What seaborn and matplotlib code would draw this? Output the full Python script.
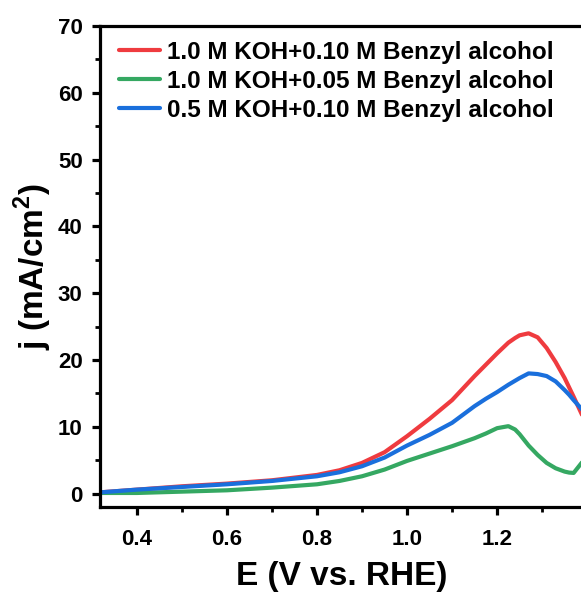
import numpy as np
import pandas as pd
import matplotlib
matplotlib.use("Agg")
import matplotlib.pyplot as plt
from matplotlib.ticker import MultipleLocator
import seaborn as sns

# 電位 (V vs. RHE)
E = [0.32, 0.40, 0.50, 0.60, 0.70, 0.80, 0.85, 0.90, 0.95, 1.00, 1.05, 1.10,
     1.15, 1.175, 1.20, 1.225, 1.24, 1.25, 1.27, 1.29, 1.31, 1.33, 1.35, 1.36,
     1.37, 1.39, 1.41]

# 電流密度 (mA/cm2)
j_koh10_ba10 = [0.2, 0.6, 1.1, 1.5, 2.0, 2.8, 3.5, 4.6, 6.2, 8.6, 11.2, 14.0,
                17.6, 19.3, 21.0, 22.6, 23.3, 23.7, 24.0, 23.4, 21.8, 19.7, 17.3, 15.9,
                14.5, 11.6, 9.0]
j_koh10_ba05 = [0.1, 0.1, 0.3, 0.5, 0.9, 1.4, 1.9, 2.6, 3.6, 4.9, 6.0, 7.1,
                8.3, 9.0, 9.8, 10.1, 9.6, 8.9, 7.2, 5.8, 4.6, 3.8, 3.3, 3.15,
                3.1, 4.8, 6.0]
j_koh05_ba10 = [0.2, 0.6, 1.0, 1.4, 1.9, 2.6, 3.2, 4.1, 5.4, 7.2, 8.8, 10.6,
                13.1, 14.2, 15.2, 16.3, 16.9, 17.3, 18.0, 17.9, 17.6, 16.8, 15.5, 14.8,
                14.0, 12.5, 11.2]

labels = ["1.0 M KOH+0.10 M Benzyl alcohol",
          "1.0 M KOH+0.05 M Benzyl alcohol",
          "0.5 M KOH+0.10 M Benzyl alcohol"]
colors = ["#ef3b3f", "#35a862", "#1a6fdc"]

# 整理成長格式
df = pd.concat([
    pd.DataFrame({"E": E, "j": j_koh10_ba10, "series": labels[0]}),
    pd.DataFrame({"E": E, "j": j_koh10_ba05, "series": labels[1]}),
    pd.DataFrame({"E": E, "j": j_koh05_ba10, "series": labels[2]}),
])

sns.set_style("ticks")
plt.rcParams["font.family"] = ["Liberation Sans", "DejaVu Sans"]
plt.rcParams["font.weight"] = "bold"
plt.rcParams["text.color"] = "black"
plt.rcParams["axes.labelcolor"] = "black"
plt.rcParams["xtick.color"] = "black"
plt.rcParams["ytick.color"] = "black"
plt.rcParams["axes.edgecolor"] = "black"
plt.rcParams["mathtext.fontset"] = "custom"
plt.rcParams["mathtext.rm"] = "Liberation Sans:bold"
plt.rcParams["mathtext.bf"] = "Liberation Sans:bold"

fig = plt.figure(figsize=(5.81, 5.94), dpi=100)
W, H = 581, 594
ax = fig.add_axes([100 / W, 87 / H, 484 / W, 481 / H])

sns.lineplot(data=df, x="E", y="j", hue="series", hue_order=labels,
             palette=colors, linewidth=3.0, ax=ax, sort=False)

ax.set_xlim(0.318, 1.393)
ax.set_ylim(-2, 70)
ax.xaxis.set_major_locator(MultipleLocator(0.2))
ax.xaxis.set_minor_locator(MultipleLocator(0.1))
ax.yaxis.set_major_locator(MultipleLocator(10))
ax.yaxis.set_minor_locator(MultipleLocator(5))

for s in ax.spines.values():
    s.set_linewidth(2.3)
ax.tick_params(which="major", direction="out", length=5.5, width=2.3,
               labelsize=16, pad=7, colors="black")
ax.tick_params(axis="x", which="major", pad=10)
ax.tick_params(which="minor", direction="out", length=3.5, width=2.0, colors="black")
for t in ax.get_xticklabels() + ax.get_yticklabels():
    t.set_fontweight("bold")

ax.set_xlabel("E (V vs. RHE)", fontsize=24, fontweight="bold", labelpad=8)
ax.set_ylabel("j (mA/cm$^2$)", fontsize=24, fontweight="bold", labelpad=3)

ax.legend(loc="upper left", frameon=False,
          prop={"weight": "bold", "size": 17.5},
          handlelength=1.65, handletextpad=0.3, labelspacing=0.25,
          borderaxespad=0.2, bbox_to_anchor=(0.01, 1.0))

fig.savefig("out.png", dpi=100)
